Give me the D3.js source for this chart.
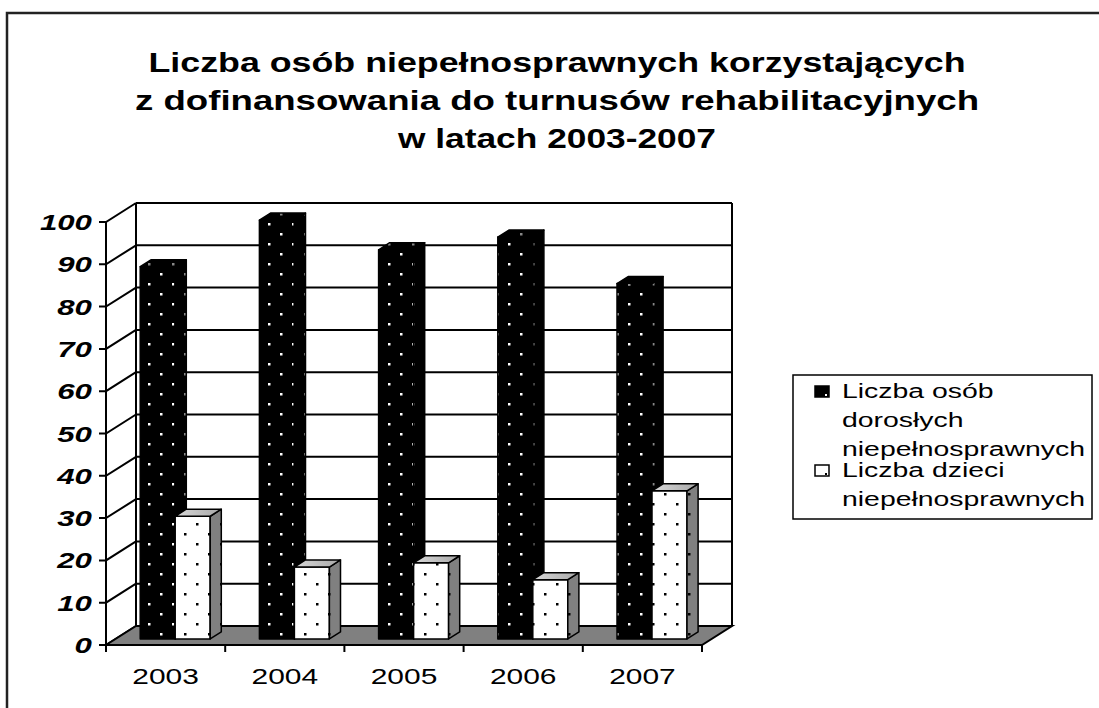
<!DOCTYPE html>
<html>
<head>
<meta charset="utf-8">
<script src="https://cdn.jsdelivr.net/npm/d3@7"></script>
<style>
body{margin:0;background:#fff}
text{font-family:Arial,"Liberation Sans",sans-serif}
</style>
</head>
<body>
<svg id="chart" width="1099" height="708"></svg>
<script>
var years = ['2003', '2004', '2005', '2006', '2007'];
var adults = [88, 99, 92, 95, 84];
var children = [29, 17, 18, 14, 35];
var yTicks = [0, 10, 20, 30, 40, 50, 60, 70, 80, 90, 100];
var titleLines = [
	'Liczba osób niepełnosprawnych korzystających',
	'z dofinansowania do turnusów rehabilitacyjnych',
	'w latach 2003-2007'
];
var legendLines = [
	['Liczba osób', 'dorosłych', 'niepełnosprawnych'],
	['Liczba dzieci', 'niepełnosprawnych']
];

var svg = d3.select('#chart');

// depth of the 3d box
var DX = 30, DY = -19;

var x = d3.scaleBand().domain(years).range([106, 702]);
var y = d3.scaleLinear().domain([0, 100]).range([645, 222]);
var inner = d3.scaleBand().domain([0, 1]).range([-35, 35]);

function pt(px, v, z){
	return [px + DX * z, y(v) + DY * z];
}
function poly(points){
	return 'M' + points.map(p => p.join(',')).join('L') + 'Z';
}

//patterns
var defs = svg.append('defs');
function dots(id, bg, fg, size){
	var p = defs.append('pattern')
		.attr('id', id)
		.attr('patternUnits', 'userSpaceOnUse')
		.attr('width', 24)
		.attr('height', 20);
	p.append('rect').attr('width', 24).attr('height', 20).attr('fill', bg);
	p.append('rect').attr('x', 4).attr('y', 3).attr('width', size).attr('height', size).attr('fill', fg);
	p.append('rect').attr('x', 16).attr('y', 13).attr('width', size).attr('height', size).attr('fill', fg);
}
dots('blackFront', '#000', '#fff', 2.5);
dots('blackSide', '#000', '#888', 2.5);
dots('whiteFront', '#fff', '#000', 2.5);
dots('graySide', '#808080', '#000', 2.5);
var grad = defs.append('linearGradient').attr('id', 'topGrad')
	.attr('x1', '0%').attr('y1', '0%').attr('x2', '100%').attr('y2', '0%');
grad.append('stop').attr('offset', '0%').attr('stop-color', '#d8d8d8');
grad.append('stop').attr('offset', '100%').attr('stop-color', '#a8a8a8');

//outer border
svg.append('path')
	.attr('d', 'M7,708V13H1099')
	.attr('fill', 'none')
	.attr('stroke', '#222')
	.attr('stroke-width', 2.5);

//title
svg.selectAll('.title')
	.data(titleLines)
	.enter().append('text')
	.classed('title', true)
	.attr('x', 557)
	.attr('y', (d, i) => 72 + i * 38)
	.attr('text-anchor', 'middle')
	.attr('textLength', (d, i) => [817, 844, 318][i])
	.attr('lengthAdjust', 'spacingAndGlyphs')
	.style('font-size', '28px')
	.style('font-weight', 'bold')
	.text(d => d);

var x0 = x.range()[0], x1 = x.range()[1];

//back wall
svg.append('rect')
	.attr('x', x0 + DX).attr('y', y(100) + DY)
	.attr('width', x1 - x0).attr('height', y(0) - y(100))
	.attr('fill', '#fff');

//gridlines on back wall
var grid = svg.append('g');
grid.selectAll('.gb')
	.data(yTicks.filter(d => d > 0))
	.enter().append('line')
	.attr('x1', x0 + DX).attr('x2', x1 + DX)
	.attr('y1', d => y(d) + DY).attr('y2', d => y(d) + DY)
	.attr('stroke', '#000').attr('stroke-width', 2);
//tick and side wall line
grid.selectAll('.tk')
	.data(yTicks)
	.enter().append('path')
	.attr('d', d => 'M' + (x0 - 7) + ',' + y(d) + 'H' + x0 + 'L' + (x0 + DX) + ',' + (y(d) + DY))
	.attr('fill', 'none')
	.attr('stroke', '#000').attr('stroke-width', 2);

//wall edges
svg.append('path')
	.attr('d', 'M' + x0 + ',' + y(0) + 'V' + y(100)
		+ 'M' + (x0 + DX) + ',' + (y(0) + DY) + 'V' + (y(100) + DY)
		+ 'M' + (x1 + DX) + ',' + (y(0) + DY) + 'V' + (y(100) + DY))
	.attr('stroke', '#000').attr('stroke-width', 2);

//floor
svg.append('path')
	.attr('d', poly([[x0, y(0)], [x1, y(0)], [x1 + DX, y(0) + DY], [x0 + DX, y(0) + DY]]))
	.attr('fill', '#808080')
	.attr('stroke', '#000').attr('stroke-width', 2);

//x ticks
svg.selectAll('.xt')
	.data(years.map(d => x(d)).concat([x1]))
	.enter().append('line')
	.attr('x1', d => d).attr('x2', d => d)
	.attr('y1', y(0)).attr('y2', y(0) + 7)
	.attr('stroke', '#000').attr('stroke-width', 2);

//bars
var z0 = 0.32, z1 = 0.69;
var series = [
	{values: adults, front: 'url(#blackFront)', side: 'url(#blackSide)', top: 'url(#blackSide)'},
	{values: children, front: 'url(#whiteFront)', side: 'url(#graySide)', top: 'url(#topGrad)'}
];
var bars = svg.append('g');
years.forEach(function(yr, i){
	var cx = x(yr) + x.bandwidth() / 2;
	series.forEach(function(s, k){
		var v = s.values[i];
		var a = cx + inner(k), b = a + inner.bandwidth();
		var g = bars.append('g')
			.attr('stroke', '#000')
			.attr('stroke-width', 1.5)
			.attr('stroke-linejoin', 'round');
		g.append('path')
			.attr('d', poly([pt(a, 0, z0), pt(b, 0, z0), pt(b, v, z0), pt(a, v, z0)]))
			.attr('fill', s.front);
		g.append('path')
			.attr('d', poly([pt(b, 0, z0), pt(b, 0, z1), pt(b, v, z1), pt(b, v, z0)]))
			.attr('fill', s.side);
		g.append('path')
			.attr('d', poly([pt(a, v, z0), pt(b, v, z0), pt(b, v, z1), pt(a, v, z1)]))
			.attr('fill', s.top);
	});
});

//y labels
svg.selectAll('.yl')
	.data(yTicks)
	.enter().append('text')
	.attr('transform', d => 'translate(92,' + (y(d) + 8) + ') scale(1.42,1)')
	.attr('text-anchor', 'end')
	.style('font-size', '22px')
	.style('font-weight', 'bold')
	.style('font-style', 'italic')
	.text(d => d);

//x labels
svg.selectAll('.xl')
	.data(years)
	.enter().append('text')
	.attr('transform', d => 'translate(' + (x(d) + x.bandwidth() / 2) + ',684) scale(1.36,1)')
	.attr('text-anchor', 'middle')
	.style('font-size', '22px')
	.text(d => d);

//legend
var legend = svg.append('g');
legend.append('rect')
	.attr('x', 793).attr('y', 375)
	.attr('width', 299).attr('height', 144)
	.attr('fill', '#fff')
	.attr('stroke', '#000').attr('stroke-width', 1.5);
var legendTop = [398, 477];
legendLines.forEach(function(lines, k){
	legend.append('rect')
		.attr('x', 815).attr('y', legendTop[k] - 12)
		.attr('width', 14).attr('height', 11)
		.attr('fill', k === 0 ? '#000' : '#fff')
		.attr('stroke', '#000').attr('stroke-width', 1.5);
	legend.append('rect')
		.attr('x', 825).attr('y', legendTop[k] - 4)
		.attr('width', 2).attr('height', 2)
		.attr('fill', k === 0 ? '#fff' : '#000');
	lines.forEach(function(t, j){
		legend.append('text')
			.attr('transform', 'translate(842,' + (legendTop[k] + j * 29) + ') scale(1.42,1)')
			.style('font-size', '20px')
			.text(t);
	});
});
</script>
</body>
</html>
